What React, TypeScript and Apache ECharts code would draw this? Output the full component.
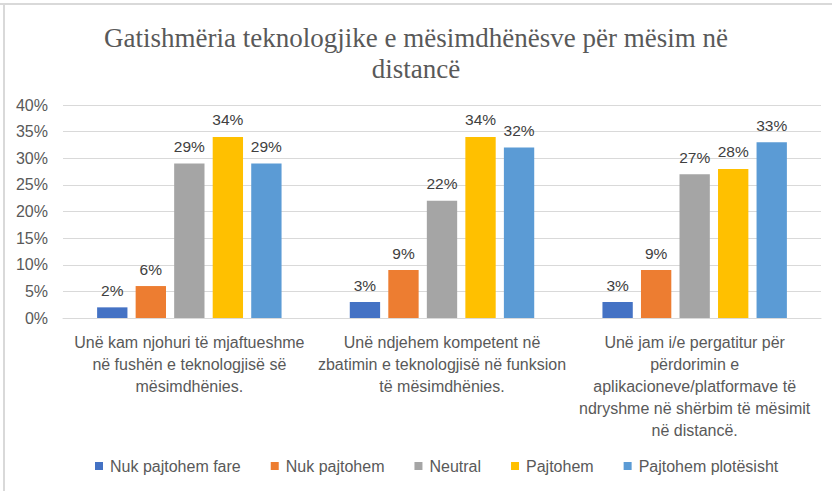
import React, { useEffect, useRef } from "react";
import * as echarts from "echarts";

const categories = [
  "Unë kam njohuri të mjaftueshme\nnë fushën e teknologjisë së\nmësimdhënies.",
  "Unë ndjehem kompetent në\nzbatimin e teknologjisë në funksion\ntë mësimdhënies.",
  "Unë jam i/e pergatitur për\npërdorimin e\naplikacioneve/platformave të\nndryshme në shërbim të mësimit\nnë distancë.",
];
const seriesNames = ["Nuk pajtohem fare", "Nuk pajtohem", "Neutral", "Pajtohem", "Pajtohem plotësisht"];
const nukPajtohemFare = [2, 3, 3];
const nukPajtohem = [6, 9, 9];
const neutral = [29, 22, 27];
const pajtohem = [34, 34, 28];
const pajtohemPlotesisht = [29, 32, 33];
const yTicks = [0, 5, 10, 15, 20, 25, 30, 35, 40];
const colors = ["#4472C4", "#ED7D31", "#A5A5A5", "#FFC000", "#5B9BD5"];

export default function App() {
  const ref = useRef<HTMLDivElement>(null);
  useEffect(() => {
    if (!ref.current) return;
    const chart = echarts.init(ref.current, null, { renderer: "svg" });
    const allData = [nukPajtohemFare, nukPajtohem, neutral, pajtohem, pajtohemPlotesisht];
    chart.setOption({
      animation: false,
      backgroundColor: "#ffffff",
      title: {
        text: "Gatishmëria teknologjike e mësimdhënësve për mësim në\ndistancë",
        left: "center",
        top: 17,
        textStyle: {
          fontFamily: "Liberation Serif",
          fontWeight: "normal",
          fontSize: 27,
          lineHeight: 31,
          color: "#595959",
        },
      },
      graphic: [
        { type: "rect", shape: { x: 0, y: 3, width: 832, height: 2 }, style: { fill: "#d9d9d9" }, silent: true },
        { type: "rect", shape: { x: 3, y: 3, width: 2, height: 488 }, style: { fill: "#d9d9d9" }, silent: true },
      ],
      legend: {
        top: 453,
        left: 90,
        itemWidth: 8,
        itemHeight: 8,
        itemGap: 30,
        icon: "rect",
        textStyle: { fontFamily: "Liberation Sans", fontSize: 16, color: "#595959", padding: [0, 0, 0, 2] },
        data: seriesNames,
      },
      grid: { left: 63, right: 11, top: 105, bottom: 173, containLabel: false },
      xAxis: {
        type: "category",
        data: categories,
        axisLine: { lineStyle: { color: "#d9d9d9", width: 1 } },
        axisTick: { show: false },
        axisLabel: {
          interval: 0,
          margin: 13,
          fontFamily: "Liberation Sans",
          fontSize: 16,
          lineHeight: 22,
          color: "#595959",
        },
      },
      yAxis: {
        type: "value",
        min: yTicks[0],
        max: yTicks[yTicks.length - 1],
        interval: 5,
        axisLine: { show: false },
        axisTick: { show: false },
        splitLine: { lineStyle: { color: "#d9d9d9", width: 1 } },
        axisLabel: {
          margin: 15,
          fontFamily: "Liberation Sans",
          fontSize: 16,
          color: "#595959",
          formatter: (v: number) => v + "%",
        },
      },
      series: seriesNames.map((name, i) => ({
        name,
        type: "bar",
        data: allData[i],
        barGap: "27%",
        barCategoryGap: "27%",
        itemStyle: { color: colors[i] },
        label: {
          show: true,
          position: "top",
          distance: 9,
          fontFamily: "Liberation Sans",
          fontSize: 15.5,
          color: "#404040",
          formatter: (p: any) => p.value + "%",
        },
      })),
    });
    return () => chart.dispose();
  }, []);
  return (
    <div
      ref={ref}
      style={{ position: "fixed", left: 0, top: 0, width: 832, height: 491 }}
    />
  );
}
